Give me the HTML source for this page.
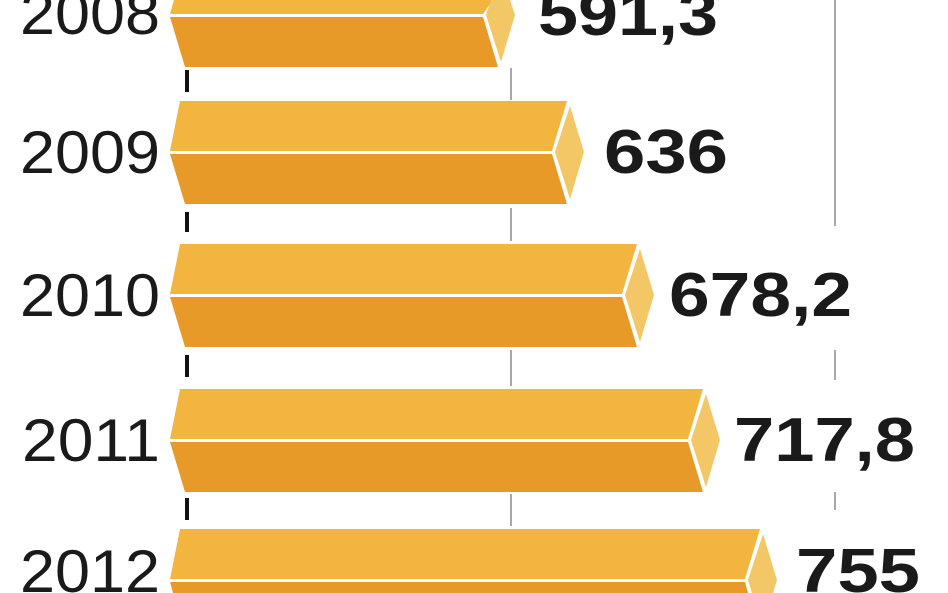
<!DOCTYPE html>
<html><head><meta charset="utf-8"><style>
html,body{margin:0;padding:0;background:#fff;width:948px;height:593px;overflow:hidden}
svg{display:block;overflow:hidden}
svg text{font-family:"Liberation Sans",sans-serif}
</style></head><body>
<svg width="948" height="593" viewBox="0 0 948 593" xmlns="http://www.w3.org/2000/svg">
<g stroke="#a8a8a8" stroke-width="2">
<line x1="511" y1="68" x2="511" y2="100"/>
<line x1="511" y1="208" x2="511" y2="241"/>
<line x1="511" y1="350" x2="511" y2="386"/>
<line x1="511" y1="494" x2="511" y2="526"/>
<line x1="835" y1="0" x2="835" y2="226"/>
<line x1="835" y1="350" x2="835" y2="380"/>
<line x1="835" y1="492" x2="835" y2="510"/>
</g>
<g stroke="#111" stroke-width="4">
<line x1="187" y1="70" x2="187" y2="92"/>
<line x1="187" y1="212" x2="187" y2="232"/>
<line x1="187" y1="355" x2="187" y2="377"/>
<line x1="187" y1="498" x2="187" y2="520"/>
</g>
<g>
<polygon points="174,0 493,0 483,14 170,14" fill="#F2B540"/>
<polygon points="170,17 483,17 498,67 185,67" fill="#E79A27"/>
<polygon points="491,0 510,0 515,15 501,62 486,15" fill="#F3C765"/>
<polygon points="180,101 567,101 552,151 170,151" fill="#F2B540"/>
<polygon points="170,154 552,154 567,204 185,204" fill="#E79A27"/>
<polygon points="570,106 584,152 570,199 555,152" fill="#F3C765"/>
<polygon points="180,244 637,244 622,294 170,294" fill="#F2B540"/>
<polygon points="170,297 622,297 637,347 185,347" fill="#E79A27"/>
<polygon points="640,249 654,295 640,342 625,295" fill="#F3C765"/>
<polygon points="180,389 703,389 688,439 170,439" fill="#F2B540"/>
<polygon points="170,442 688,442 703,492 185,492" fill="#E79A27"/>
<polygon points="706,394 720,440 706,487 691,440" fill="#F3C765"/>
<polygon points="180,529 760,529 745,579 170,579" fill="#F2B540"/>
<polygon points="170,582 745,582 748,593 173,593" fill="#E79A27"/>
<polygon points="763,534 777,580 773,593 752,593 748,580" fill="#F3C765"/>
</g>
<g font-size="60" fill="#1a1a1a">
<text x="20" y="34" textLength="140" lengthAdjust="spacingAndGlyphs">2008</text>
<text x="20" y="173" textLength="140" lengthAdjust="spacingAndGlyphs">2009</text>
<text x="20" y="316" textLength="140" lengthAdjust="spacingAndGlyphs">2010</text>
<text x="22" y="461" textLength="138" lengthAdjust="spacingAndGlyphs">2011</text>
<text x="20" y="592" textLength="140" lengthAdjust="spacingAndGlyphs">2012</text>
</g>
<g font-size="62" font-weight="bold" fill="#1a1a1a">
<text x="538" y="35" textLength="180" lengthAdjust="spacingAndGlyphs">591,3</text>
<text x="604" y="173" textLength="124" lengthAdjust="spacingAndGlyphs">636</text>
<text x="669" y="316" textLength="183" lengthAdjust="spacingAndGlyphs">678,2</text>
<text x="734" y="461" textLength="181" lengthAdjust="spacingAndGlyphs">717,8</text>
<text x="796" y="592" textLength="124" lengthAdjust="spacingAndGlyphs">755</text>
</g>
</svg>
</body></html>
